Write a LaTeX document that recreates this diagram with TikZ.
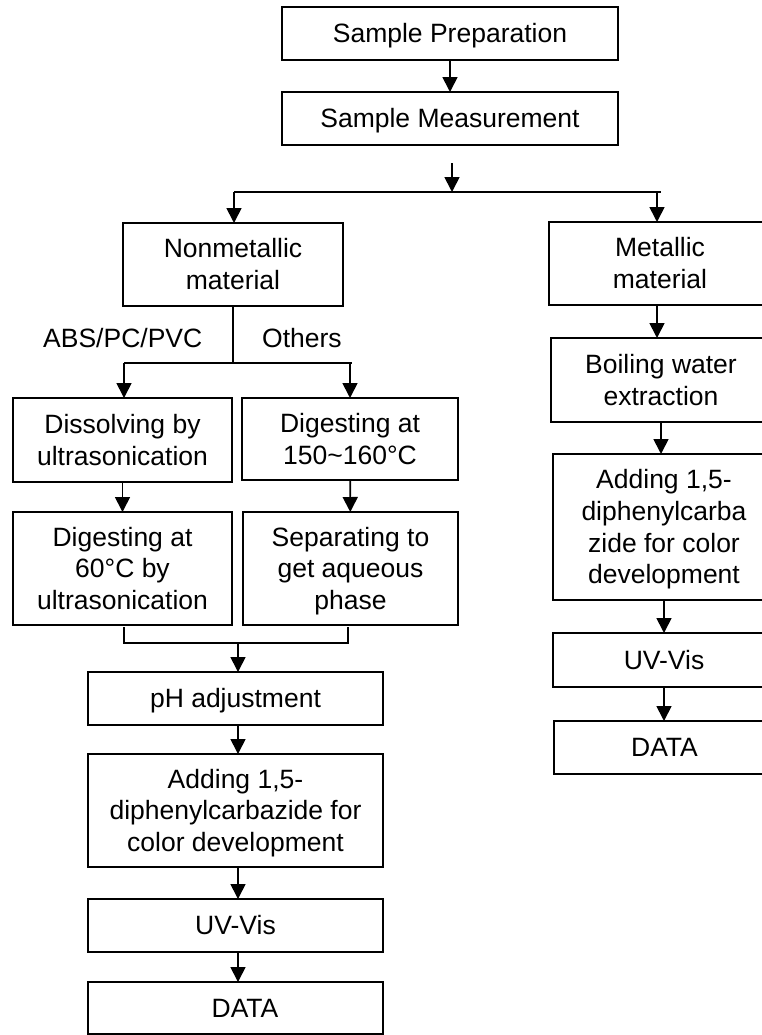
\documentclass[tikz,border=0pt]{standalone}
\usepackage{fontspec}
\setmainfont{Liberation Sans}
\usetikzlibrary{arrows.meta}
\newcommand\bs{\rule[-5.6bp]{0pt}{29.6bp}}
\begin{document}
\begin{tikzpicture}[x=1bp,y=-1bp,
  txt/.style={font=\fontsize{26.5bp}{31.7bp}\selectfont},
  box/.style={txt, draw, line width=1.7bp, rectangle, inner sep=0pt, outer sep=0pt, align=center},
  arr/.style={line width=1.7bp, -{Triangle[length=15bp,width=15bp]}},
  ln/.style={line width=1.7bp},
  lab/.style={txt, inner sep=0pt}]
\clip (0,0) rectangle (762,1035);
\fill[white] (0,0) rectangle (762,1035);

% top
\node[box, minimum width=336bp, minimum height=53bp] (prep) at (450,33.5) {\bs Sample Preparation};
\node[box, minimum width=336bp, minimum height=53bp] (meas) at (450,118.5) {\bs Sample Measurement};

% left branch
\node[box, minimum width=220bp, minimum height=83bp] (nonmet) at (233,264.5) {\bs Nonmetallic\\material\bs};
\node[box, minimum width=219bp, minimum height=84bp] (diss) at (122.5,440) {\bs Dissolving by\\ultrasonication\bs};
\node[box, minimum width=216bp, minimum height=82bp] (dig150) at (350,439) {\bs Digesting at\\150\textasciitilde160°C\bs};
\node[box, minimum width=219bp, minimum height=113bp] (dig60) at (122.5,568.5) {\bs Digesting at\\60°C by\\ultrasonication\bs};
\node[box, minimum width=215bp, minimum height=113bp] (sep) at (350.5,568.5) {\bs Separating to\\get aqueous\\phase\bs};
\node[box, minimum width=295bp, minimum height=53bp] (ph) at (235.5,698.5) {\bs pH adjustment};
\node[box, minimum width=295bp, minimum height=113bp] (add) at (235.5,810.5) {\bs Adding 1,5-\\diphenylcarbazide for\\color development\bs};
\node[box, minimum width=295bp, minimum height=53bp] (uv) at (235.5,925.5) {\bs UV-Vis};
\node[box, minimum width=295bp, minimum height=52bp] (data) at (235.5,1008) {\bs\hspace*{19bp}DATA};

\node[lab, anchor=west] (abs) at (43,338) {ABS/PC/PVC};
\node[lab, anchor=west] (oth) at (262,338) {Others};

% right branch
\node[box, minimum width=222bp, minimum height=83bp] (met) at (660,263.5) {\bs Metallic\\material\bs};
\node[box, minimum width=220bp, minimum height=84bp] (boil) at (661,380) {\bs Boiling water\\extraction\bs};
\node[box, minimum width=222bp, minimum height=146bp] (addr) at (664,527) {\bs Adding 1,5-\\diphenylcarba\\zide for color\\development\bs};
\node[box, minimum width=222bp, minimum height=54bp] (uvr) at (664,660) {\bs UV-Vis};
\node[box, minimum width=221bp, minimum height=53bp] (datar) at (664.5,747.5) {\bs DATA};

% top connectors
\draw[arr] (prep.south) -- (meas.north);
\coordinate (s0) at (452,163);
\coordinate (s1) at (452,192);
\coordinate (sL) at (234,192);
\coordinate (sR) at (661,192);
\coordinate (sM) at (657,192);
\draw[arr] (s0) -- (s1);
\draw[ln] (sL) -- (sR);
\draw[arr] (sL) -- (sL |- nonmet.north);
\draw[arr] (sM) -- (sM |- met.north);

% nonmetallic split
\coordinate (j2) at (233,363);
\coordinate (j2L) at (124,363);
\coordinate (j2R) at (352,363);
\coordinate (j2r) at (350,363);
\draw[ln] (nonmet.south) -- (j2);
\draw[ln] (j2L) -- (j2R);
\draw[arr] (j2L) -- (j2L |- diss.north);
\draw[arr] (j2r) -- (j2r |- dig150.north);
\draw[arr] (diss) -- (dig60);
\draw[arr] (dig150) -- (sep);

% merge
\coordinate (mL) at (124,627);
\coordinate (mR) at (348,627);
\coordinate (mJ) at (238,643);
\draw[ln] (mL) |- (mJ) -| (mR);
\draw[arr] (mJ) -- (mJ |- ph.north);
\draw[arr] (ph.south -| mJ) -- (add.north -| mJ);
\draw[arr] (add.south -| mJ) -- (uv.north -| mJ);
\draw[arr] (uv.south -| mJ) -- (data.north -| mJ);

% right column connectors
\draw[arr] (met.south -| sM) -- (boil.north -| sM);
\draw[arr] (boil.south) -- (boil.south |- addr.north);
\draw[arr] (addr.south) -- (uvr.north);
\draw[arr] (uvr.south) -- (datar.north -| uvr.south);
\end{tikzpicture}
\end{document}
